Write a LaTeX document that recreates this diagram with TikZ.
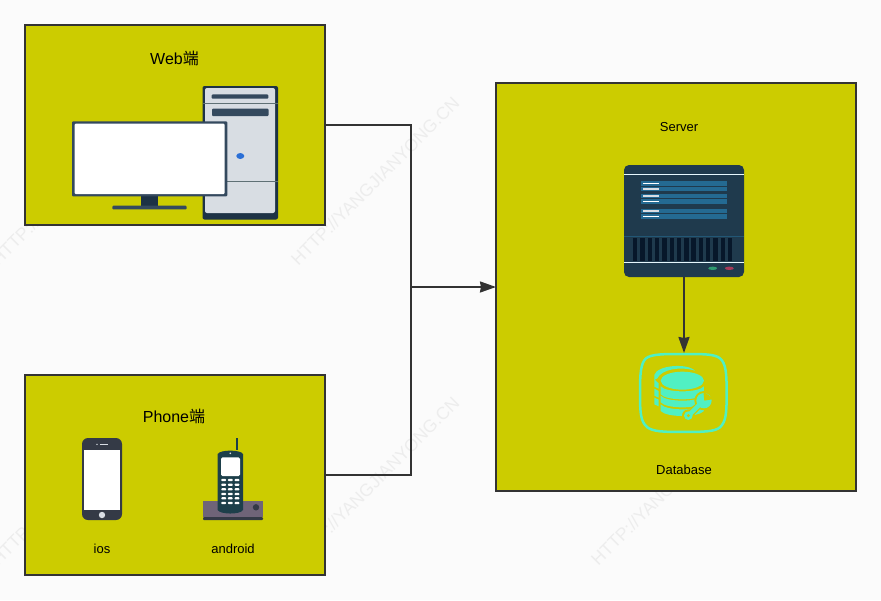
\documentclass[tikz,border=0pt]{standalone}
\usepackage{fontspec}
\setmainfont{Liberation Sans}
\newfontfamily\cjk{Noto Sans CJK SC}
\usepackage{tikz}
\usetikzlibrary{arrows.meta, positioning}

\definecolor{pagebg}{HTML}{FBFBFB}
\definecolor{markgray}{HTML}{EDEDED}
\definecolor{panelfill}{HTML}{CCCC00}
\definecolor{linegray}{HTML}{333333}
\definecolor{navy}{HTML}{1D3245}
\definecolor{slate}{HTML}{34495E}
\definecolor{towerface}{HTML}{D8DDE3}
\definecolor{towerline}{HTML}{5F7075}
\definecolor{ledblue}{HTML}{2B6FD6}
\definecolor{phonegray}{HTML}{343A46}
\definecolor{teal}{HTML}{1D3F4A}
\definecolor{cradle}{HTML}{6F6478}
\definecolor{rackbody}{HTML}{1F3A4D}
\definecolor{rackbar}{HTML}{246A92}
\definecolor{ventdark}{HTML}{07172A}
\definecolor{ledgreen}{HTML}{2F9A70}
\definecolor{ledred}{HTML}{A83A5A}
\definecolor{mint}{HTML}{50F0C3}

\tikzset{
	panel/.style={draw=linegray, fill=panelfill, line width=2pt, inner sep=0pt, outer sep=0pt},
	iconbox/.style={inner sep=0pt, outer sep=0pt},
	heading/.style={font=\fontsize{16}{16}\selectfont, inner sep=0pt},
	caption/.style={font=\fontsize{13}{13}\selectfont, inner sep=0pt},
	watermark/.style={font=\fontsize{17.6}{18}\selectfont, text=markgray, rotate=45, inner sep=0pt},
	link/.style={draw=linegray, line width=2pt},
	linkarrow/.style={link, -{Stealth[length=16pt, width=11pt, inset=1pt]}}
}

\begin{document}
\begin{tikzpicture}[x=1pt, y=-1pt]
	\useasboundingbox (0,0) rectangle (881,600);
	\fill[pagebg] (0,0) rectangle (881,600);
	
	% watermark under everything
	\foreach \mx/\my [count=\i] in {75/181, 375/181, 75/481, 375/481, 675/481}
		\node[watermark] (mark\i) at (\mx,\my) {HTTP://YANGJIANYONG.CN};
	
	\node[panel, minimum width=300pt, minimum height=200pt] (web) at (175,125) {};
	\node[panel, minimum width=300pt, minimum height=200pt, below=150pt of web] (phone) {};
	\node[panel, minimum width=360pt, minimum height=408pt] (server) at (676,287) {};
	\coordinate (joint) at (411,287);
	
	\node[heading] (webtitle) at (174.5,58) {Web{\cjk 端}};
	\node[heading] (phonetitle) at (174,416.5) {Phone{\cjk 端}};
	\node[caption] (ios) at (102,548.5) {ios};
	\node[caption] (android) at (233,548.5) {android};
	\node[caption] (servertitle) at (679,127.5) {Server};
	\node[caption] (dbtitle) at (684,470) {Database};
	
	% tower
	\fill[navy, rounded corners=2pt] (202.5,86) rectangle (278,219.5);
	\fill[towerface, rounded corners=2pt] (205,88) rectangle (275,213);
	\draw[towerline, line width=0.8pt] (203,103.3) -- (278,103.3);
	\draw[towerline, line width=0.8pt] (203,181.3) -- (278,181.3);
	\fill[slate, rounded corners=1pt] (211.7,94.3) rectangle (268.3,98.7);
	\fill[slate, rounded corners=1pt] (212,108.7) rectangle (268.7,116);
	\fill[ledblue] (240.3,156) ellipse (4 and 3);
	
	% monitor
	\fill[navy] (141.3,196) rectangle (158,206);
	\fill[slate, rounded corners=1pt] (112.3,205.7) rectangle (186.7,209.3);
	\fill[slate, rounded corners=1pt] (72,121.3) rectangle (227.3,196.3);
	\fill[white, rounded corners=1pt] (74.7,123.7) rectangle (224.7,194);
	
	% iphone
	\fill[phonegray, rounded corners=6pt] (82,438) rectangle (122,520);
	\fill[white] (84.3,449.7) rectangle (119.7,510);
	\fill[towerface] (102,515) circle (3.2);
	\fill[towerface] (100,444) rectangle (108,444.7);
	\fill[towerface] (97,444.3) circle (0.8);
	
	% cordless phone
	\fill[cradle] (203,501.3) rectangle (263,517.3);
	\fill[phonegray, rounded corners=1pt] (203,517) rectangle (263,520);
	\fill[phonegray] (256,507.3) circle (3.2);
	\draw[teal, line width=1.5pt] (237,438.3) -- (237,450);
	\fill[teal] (217.7,454) .. controls (220,449.5) and (240.7,449.5) .. (243,454)
		-- (243,510) .. controls (240.7,514.7) and (220,514.7) .. (217.7,510) -- cycle;
	\fill[white, rounded corners=1.5pt] (221,457.3) rectangle (240,476);
	\fill[towerface] (230.3,453.3) circle (0.9);
	\foreach \ky in {480,484.7,489.3,494,498.3,503}
		\foreach \kx in {223.7,230.3,237}
			\fill[white, rounded corners=0.8pt] (\kx-2.4,\ky-1.15) rectangle (\kx+2.4,\ky+1.15);
	
	% rack
	\node[iconbox, minimum width=120pt, minimum height=112pt] (rack) at (684,221) {};
	\fill[rackbody, rounded corners=5pt] (624,165) rectangle (744,277);
	\draw[white!90!cyan, line width=1pt] (624,174.3) -- (744,174.3);
	\draw[white!90!cyan, line width=1pt] (624,262.3) -- (744,262.3);
	\draw[rackbar!60!rackbody, line width=0.8pt] (624,236.3) -- (744,236.3);
	\foreach \ry/\rc in {183.6/white, 189/towerface, 196/towerface, 201.5/white, 211/towerface, 216.4/white} {
		\fill[rackbar] (641,\ry-2.3) rectangle (727.3,\ry+2.3);
		\fill[\rc] (643.3,\ry-0.7) rectangle (659,\ry+0.7);
	}
	\foreach \vi in {0,...,13}
		\fill[ventdark] (633+7.3*\vi,237.7) rectangle (637.4+7.3*\vi,260.7);
	\fill[ledgreen] (712.7,268.3) ellipse (4.5 and 1.7);
	\fill[ledred] (729.3,268.3) ellipse (4.5 and 1.7);
	
	% database icon, in units of a third of a pixel
	\node[iconbox, minimum width=88pt, minimum height=80pt, below=76pt of rack] (dbicon) {};
	\begin{scope}[shift={(620,330)}, x=0.3333pt, y=-0.3333pt]
		\draw[mint, line width=2.5pt] (190,72) .. controls (250,72) and (285,72) .. (300,85)
			.. controls (318,100) and (320,130) .. (320,190)
			.. controls (320,250) and (318,275) .. (300,292)
			.. controls (285,305) and (250,306) .. (190,306)
			.. controls (130,306) and (100,305) .. (82,292)
			.. controls (62,275) and (60,250) .. (60,190)
			.. controls (60,130) and (62,100) .. (78,85)
			.. controls (95,72) and (130,72) .. (190,72) -- cycle;
		% back cylinder
		\fill[mint] (103,135) .. controls (110,106) and (200,98) .. (225,122)
			.. controls (180,108) and (125,118) .. (112,145) -- (103,150) -- cycle;
		\fill[mint] (103,148) -- (116,160) -- (116,176) -- (103,170) -- cycle;
		\fill[mint] (103,176) -- (116,183) -- (116,203) -- (103,197) -- cycle;
		\fill[mint] (103,203) -- (116,209) -- (116,229) -- (103,223) -- cycle;
		% front cylinder
		\fill[mint] (187,152) ellipse (65 and 27);
		\foreach \by/\bh in {169/24, 197/20, 223/20}
			\fill[mint] (122,\by) .. controls (140,\by+20) and (234,\by+20) .. (252,\by)
				-- (252,\by+\bh) .. controls (234,\by+\bh+20) and (140,\by+\bh+20) .. (122,\by+\bh) -- cycle;
		% wrench
		\fill[panelfill] (252,212) circle (29);
		\draw[panelfill, line width=7pt] (205,257) -- (245,218);
		\fill[panelfill] (205,257) circle (19);
		\fill[mint] (252,212) circle (23);
		\draw[mint, line width=4.6pt] (205,257) -- (245,218);
		\fill[mint] (205,257) circle (13);
		\fill[panelfill] (205,257) circle (5);
		\fill[panelfill] (253,212) -- (250,184) -- (282,207) -- cycle;
	\end{scope}
	
	\draw[link] (web.east) -| (joint);
	\draw[link] (phone.east) -| (joint);
	\draw[linkarrow] (joint) -- (server.west);
	\draw[linkarrow] (rack.south) -- (dbicon.north);
\end{tikzpicture}
\end{document}
